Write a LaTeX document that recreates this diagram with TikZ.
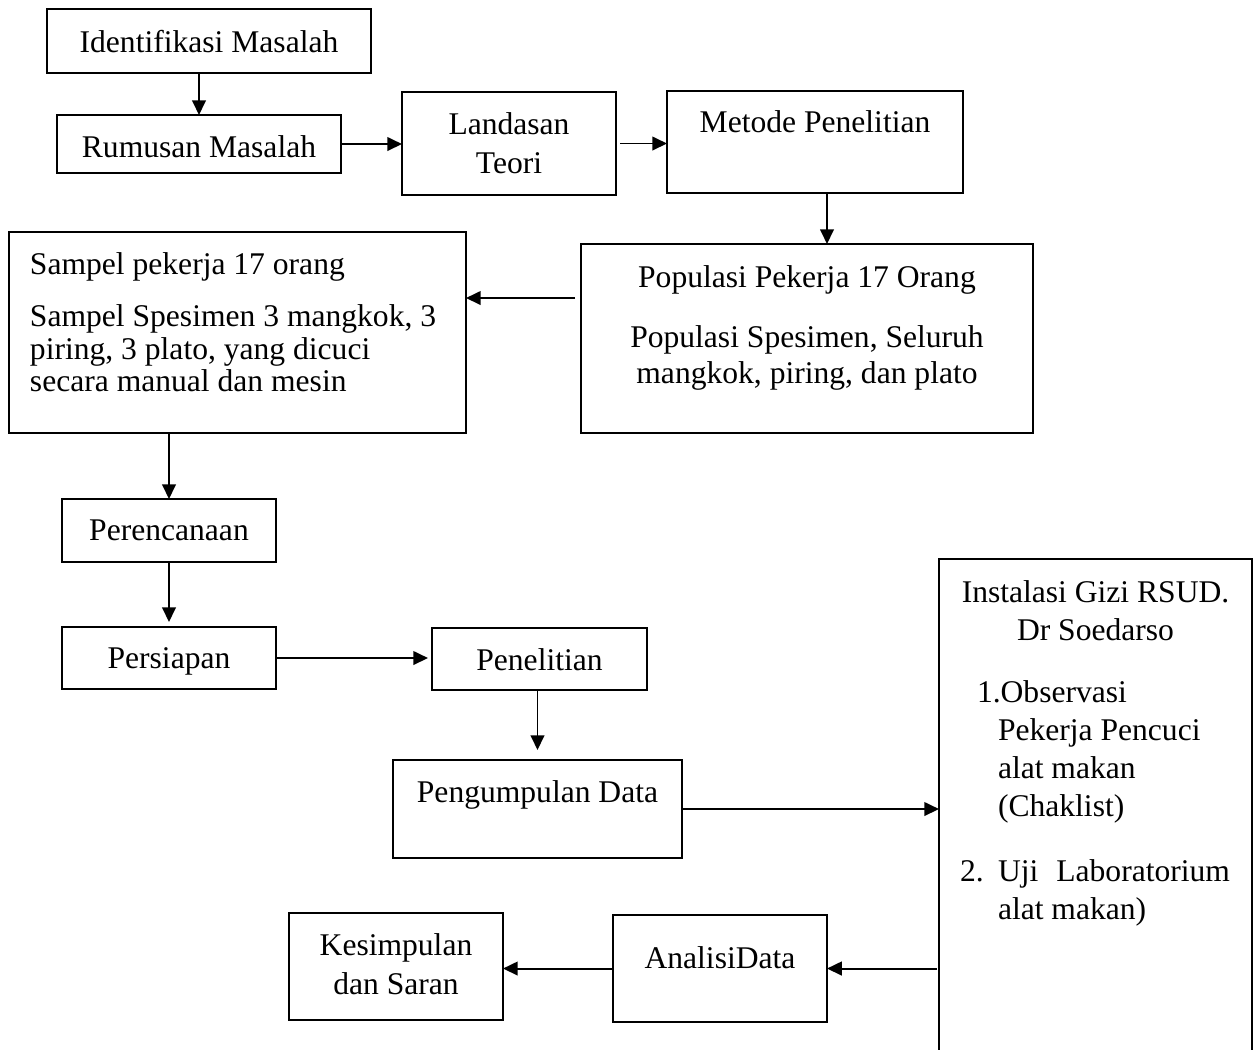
\documentclass[tikz,border=0pt]{standalone}
\usepackage{fontspec}
\setmainfont{Liberation Serif}
\usetikzlibrary{arrows.meta}
\newlength\pxu
\setlength\pxu{0.38pt}
\newcommand\bxt[5]{\parbox[c][#2\pxu][t]{#1\pxu}{\fontsize{12pt}{#4\pxu}\selectfont\lineskiplimit=-20pt\vspace*{#3\pxu}#5}}
\newcommand\stt{\rule{0pt}{24\pxu}}
\begin{document}
\begin{tikzpicture}[x=0.38pt,y=-0.38pt,
  box/.style={draw, line width=0.8pt, inner sep=0pt, outer sep=0pt},
  arr/.style={-{Triangle[length=5.6pt,width=5.2pt]}, line width=0.75pt}]
\useasboundingbox (0,0) rectangle (1257,1049);

\node[box] (ident) at (209,41) {\bxt{324}{64}{19}{14}{\centering\stt Identifikasi Masalah}};
\node[box] (rumusan) at (199,144) {\bxt{284}{58}{18}{14}{\centering\stt Rumusan Masalah}};
\node[box] (landasan) at (509,143.5) {\bxt{214}{103}{18}{39}{\centering\stt Landasan\\Teori}};
\node[box] (metode) at (815,142) {\bxt{296}{102}{17}{38}{\centering\stt Metode Penelitian}};
\node[box] (pop) at (807,338.5) {\bxt{452}{189}{19}{36}{\centering\stt Populasi Pekerja 17 Orang\par\vspace{24\pxu}Populasi Spesimen, Seluruh\\mangkok, piring, dan plato}};
\node[box] (sampel) at (237.5,332.5) {\bxt{457}{201}{18}{32.5}{\raggedright\leftskip=21\pxu\stt Sampel pekerja 17 orang\par\vspace{20\pxu}Sampel Spesimen 3 mangkok, 3\\piring, 3 plato, yang dicuci\\secara manual dan mesin}};
\node[box] (perenc) at (169,530.5) {\bxt{214}{63}{17}{14}{\centering\stt Perencanaan}};
\node[box] (persiap) at (169,658) {\bxt{214}{62}{17}{14}{\centering\stt Persiapan}};
\node[box] (penel) at (539.5,659) {\bxt{215}{62}{18}{14}{\centering\stt Penelitian}};
\node[box] (pengump) at (537.5,809) {\bxt{289}{98}{18}{38}{\centering\stt Pengumpulan Data}};
\node[box] (analisi) at (720,968.5) {\bxt{214}{107}{29}{38}{\centering\stt AnalisiData}};
\node[box] (kesimp) at (396,966.5) {\bxt{214}{107}{18}{39}{\centering\stt Kesimpulan\\dan Saran}};
\node[box] (instal) at (1095.5,814.5) {\bxt{313}{511}{19}{38}{\centering\stt Instalasi Gizi RSUD.\\Dr Soedarso\par\vspace{24\pxu}\raggedright
\hspace*{38\pxu}1.Observasi\\
\hspace*{59\pxu}Pekerja Pencuci\\
\hspace*{59\pxu}alat makan\\
\hspace*{59\pxu}(Chaklist)\par\vspace{27\pxu}
\hspace*{21\pxu}\makebox[38\pxu][l]{2.}\makebox[232\pxu][s]{Uji\hfill Laboratorium}\\
\hspace*{59\pxu}alat makan)}};

\coordinate (popy) at (0,298);
\coordinate (popout) at ([xshift=-6\pxu]pop.west);
\coordinate (landout) at ([xshift=4\pxu]landasan.east);
\coordinate (metout) at ([xshift=12\pxu]metode.south);

\draw[arr] (ident.south -| rumusan.north) -- (rumusan.north);
\draw[arr] (rumusan.east) -- (rumusan.east -| landasan.west);
\draw[arr] (landout) -- (landout -| metode.west);
\draw[arr] (metout) -- (metout |- pop.north);
\draw[arr] (popout |- popy) -- (sampel.east |- popy);
\draw[arr] (sampel.south -| perenc.north) -- (perenc.north);
\draw[arr, shorten >=5\pxu] (perenc.south) -- (persiap.north);
\draw[arr, shorten >=4\pxu] (persiap.east) -- (persiap.east -| penel.west);
\draw[arr, shorten >=10\pxu] (penel.south -| pengump.north) -- (pengump.north);
\draw[arr] (pengump.east) -- (pengump.east -| instal.west);
\draw[arr] ([xshift=-2\pxu]instal.west |- analisi.east) -- (analisi.east);
\draw[arr] (analisi.west) -- (analisi.west -| kesimp.east);
\end{tikzpicture}
\end{document}
